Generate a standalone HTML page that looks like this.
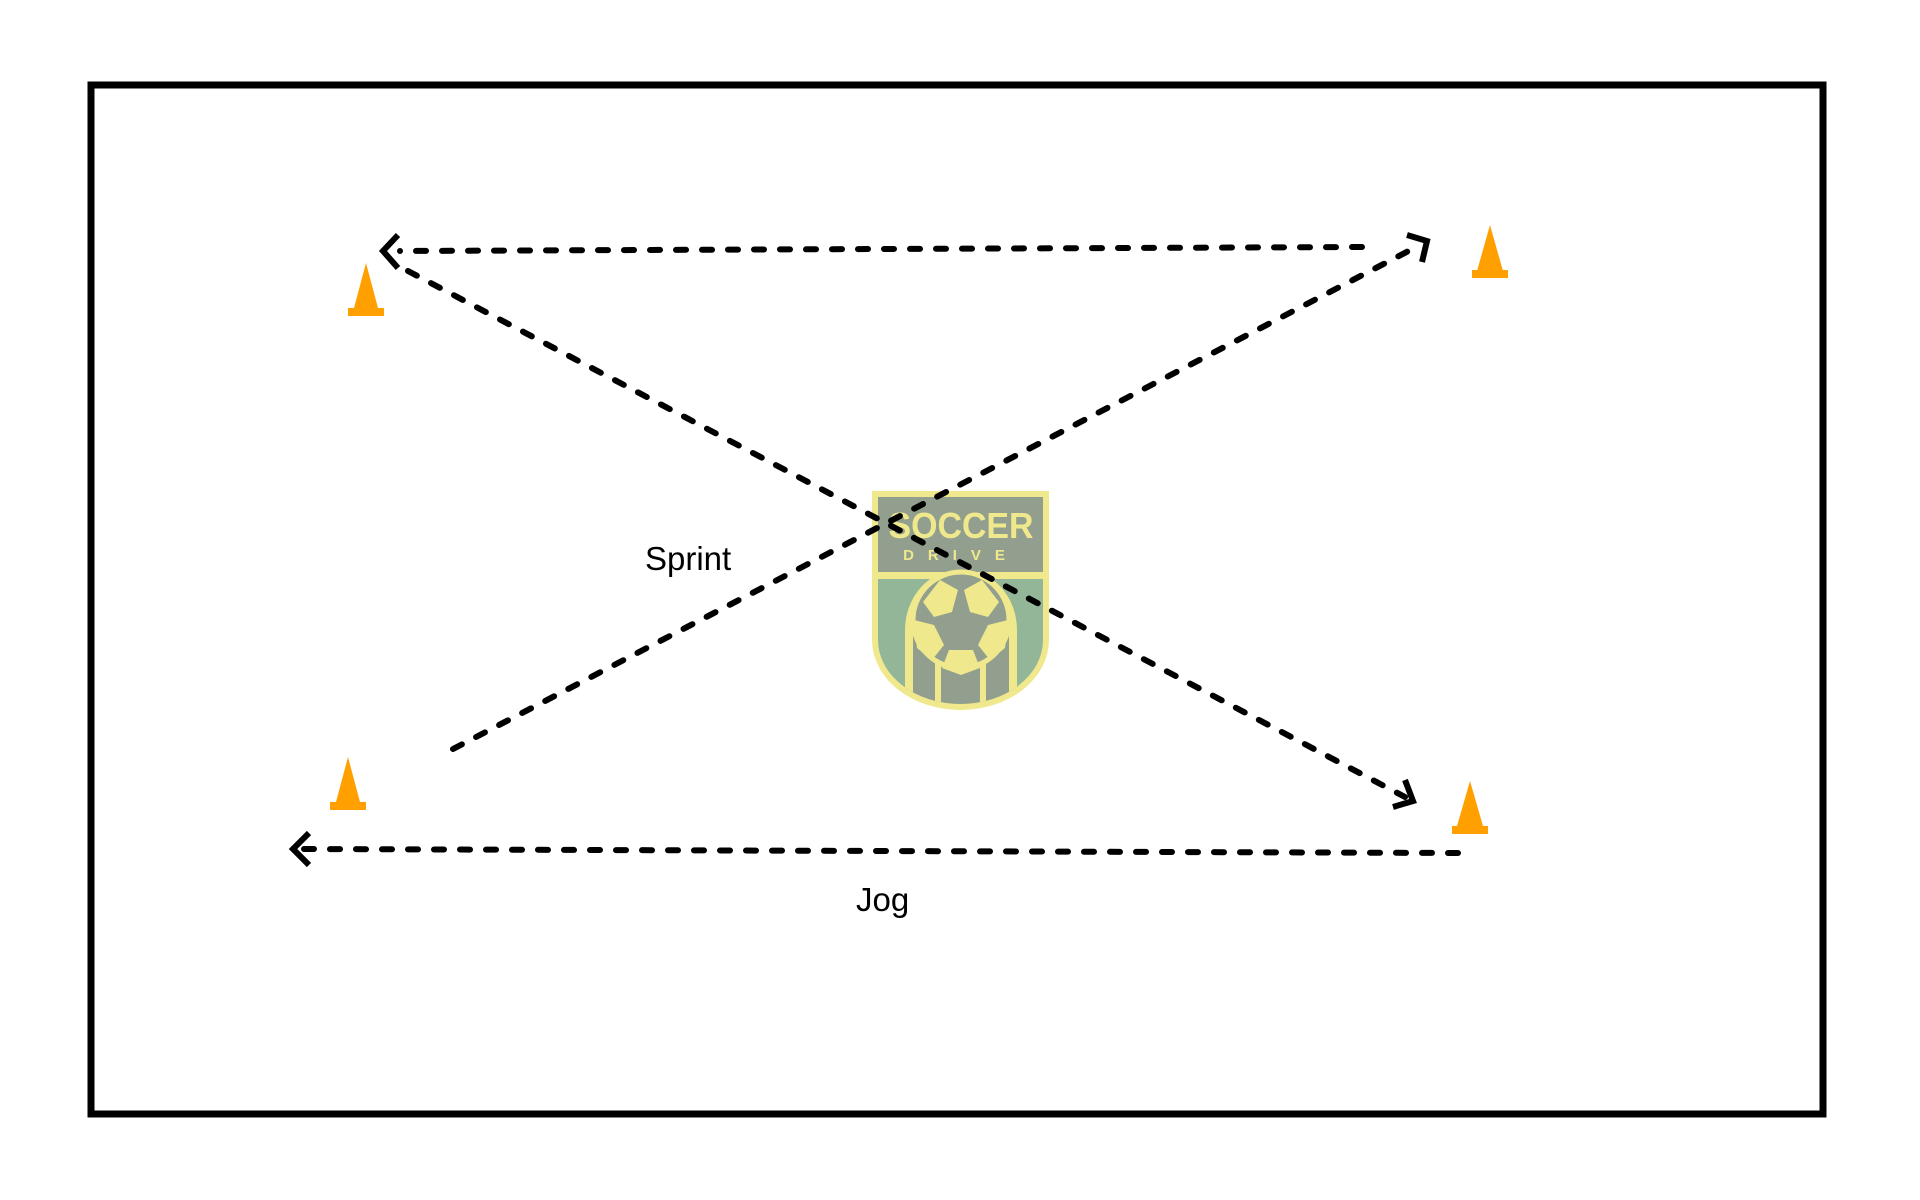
<!DOCTYPE html>
<html><head><meta charset="utf-8"><style>
html,body{margin:0;padding:0;background:#fff;}
svg{display:block}
</style></head><body>
<svg width="1920" height="1200" viewBox="0 0 1920 1200" xmlns="http://www.w3.org/2000/svg">
<rect x="91" y="85" width="1732" height="1029" fill="none" stroke="#000" stroke-width="7"/>
<!-- logo -->
<defs><clipPath id="sh"><path d="M878 579 H1043 V640 A82.5 64 0 0 1 878 640 Z"/></clipPath></defs>
<g>
<path d="M872 491 H1049 V640 A88.5 70 0 0 1 872 640 Z" fill="#efe88c"/>
<rect x="878" y="497" width="165" height="75" fill="#939f8e"/>
<path d="M878 579 H1043 V640 A82.5 64 0 0 1 878 640 Z" fill="#93b598"/>
<g clip-path="url(#sh)">
<path d="M905 720 V630 A55 60 0 0 1 1017 630 V720 Z" fill="#efe88c"/>
<path d="M913 720 V630 A47 52 0 0 1 1009 630 V720 Z" fill="#939f8e"/>
<rect x="935" y="660" width="6" height="60" fill="#efe88c"/>
<rect x="980" y="660" width="6" height="60" fill="#efe88c"/>
</g>
<circle cx="961" cy="620" r="48" fill="#939f8e"/>
<circle cx="961" cy="620" r="48" fill="none" stroke="#efe88c" stroke-width="5"/>
<g fill="#efe88c">
<polygon points="923,602 940,580 958,590 952,612 934,617"/>
<polygon points="964,590 982,580 999,602 988,617 970,612"/>
<polygon points="914,620 934,625 944,645 932,660 917,648"/>
<polygon points="1008,620 1005,648 990,660 978,645 988,625"/>
<polygon points="949,650 973,650 980,668 961,675 942,668"/>
</g>
<text x="961" y="538" text-anchor="middle" font-family="Liberation Sans, sans-serif" font-weight="bold" font-size="36" fill="#efe88c" textLength="145" lengthAdjust="spacingAndGlyphs">SOCCER</text>
<text x="961" y="560" text-anchor="middle" font-family="Liberation Sans, sans-serif" font-weight="bold" font-size="15" fill="#efe88c" letter-spacing="14">DRIVE</text>
</g>
<!-- cones -->
<g fill="#ffa000">
<polygon points="366,263 354,308 378,308"/><rect x="348" y="308" width="36" height="8"/>
<polygon points="1490,225 1477,271 1503,271"/><rect x="1472" y="270" width="36" height="8"/>
<polygon points="348,757 336,802 360,802"/><rect x="330" y="802" width="36" height="8"/>
<polygon points="1470,781 1457,826 1483,826"/><rect x="1452" y="826" width="36" height="8"/>
</g>
<!-- lines -->
<g stroke="#000" stroke-width="6" fill="none" stroke-linecap="round" stroke-dasharray="10 16">
<line x1="1362" y1="247" x2="400" y2="251"/>
<line x1="408" y1="271" x2="1405" y2="797"/>
<line x1="453" y1="749" x2="1420" y2="245"/>
<line x1="1458" y1="853" x2="304" y2="849"/>
</g>
<g stroke="#000" stroke-width="6" fill="none">
<polyline points="398,235 383,251 398,268"/>
<polyline points="1407,235 1427,241 1422,262"/>
<polyline points="1405,780 1413,801 1393,807"/>
<polyline points="309,833 293,849 309,865"/>
</g>
<text x="645" y="570" font-family="Liberation Sans, sans-serif" font-size="33" fill="#000">Sprint</text>
<text x="856" y="911" font-family="Liberation Sans, sans-serif" font-size="33" fill="#000">Jog</text>
</svg>
</body></html>
